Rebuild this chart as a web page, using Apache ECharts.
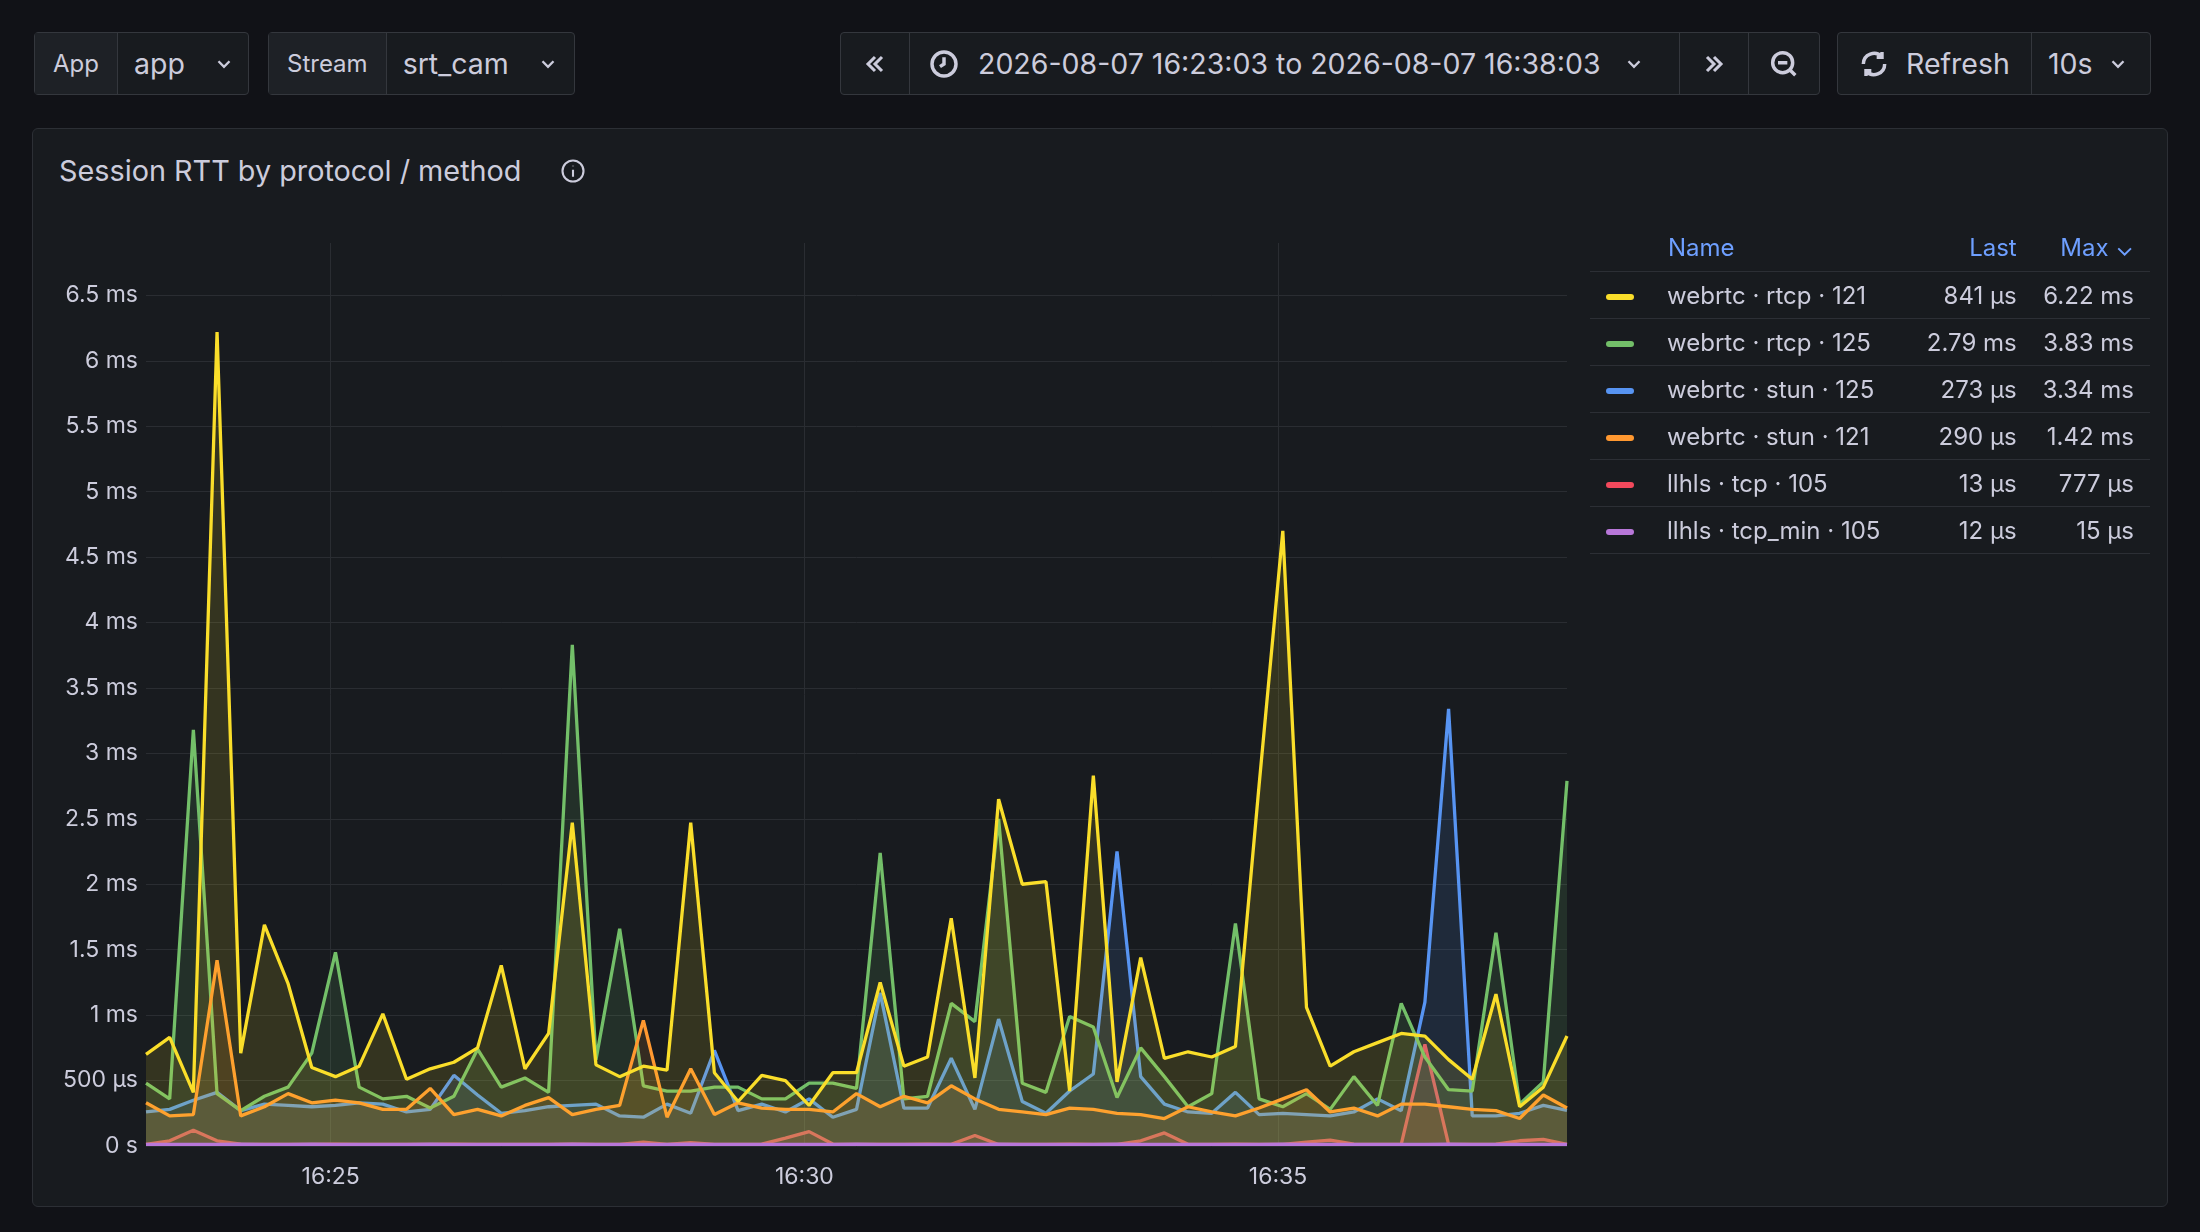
<!DOCTYPE html>
<html>
<head>
<meta charset="utf-8">
<script src="https://cdn.jsdelivr.net/npm/echarts@6/dist/echarts.min.js"></script>
<style>
  html, body { margin: 0; padding: 0; background: #111217; font-family: Inter, "Noto Sans", sans-serif; color: #ccccdc; }
  #page { position: relative; width: 2200px; height: 1232px; overflow: hidden; }
  .box { position: absolute; top: 32px; height: 63px; border: 1px solid #34373d; border-radius: 4px; background: #181b1f; display: flex; align-items: center; font-size: 28.5px; box-sizing: border-box; white-space: nowrap; }
  .box .lab { height: 100%; display: flex; align-items: center; padding: 0 18px; border-right: 1px solid #34373d; font-size: 24px; background: #1e2126; }
  .box .seg { height: 100%; display: flex; align-items: center; padding: 0 18px; border-right: 1px solid #34373d; box-sizing: border-box; flex: none; }
  .box .seg:last-child { border-right: none; }
  svg { stroke: #ccccdc; fill: none; stroke-width: 2.6; flex: none; }
  #panel { position: absolute; left: 32px; top: 128px; width: 2136px; height: 1079px; border: 1px solid #2c2f35; border-radius: 6px; background: #181b1f; box-sizing: border-box; }
  #title { position: absolute; left: 26px; top: 24px; font-size: 28.8px; color: #ccccdc; display: flex; align-items: center; }
  #chart { position: absolute; left: 0; top: 0; width: 2200px; height: 1232px; }
  #legend { position: absolute; left: 1590px; top: 223px; width: 560px; font-size: 24px; }
  #legend table { border-collapse: collapse; width: 100%; }
  #legend th { color: #6e9fff; font-weight: 400; height: 46px; border-bottom: 1px solid #2c2f35; }
  #legend td { height: 46px; padding: 0; border-bottom: 1px solid #2c2f35; }
  .sw { display: inline-block; width: 28px; height: 6px; border-radius: 3px; vertical-align: middle; }
</style>
</head>
<body>
<div id="page">
  <div class="box" style="left:34px;width:215px"><div class="lab">App</div><div class="seg" style="padding-left:16px">app<svg width="22" height="22" viewBox="0 0 24 24" style="margin-left:28px"><path d="M6 9l6 6 6-6"/></svg></div></div>
  <div class="box" style="left:268px;width:307px"><div class="lab">Stream</div><div class="seg" style="padding-left:16px">srt_cam<svg width="22" height="22" viewBox="0 0 24 24" style="margin-left:28px"><path d="M6 9l6 6 6-6"/></svg></div></div>
  <div class="box" style="left:840px;width:980px">
    <div class="seg" style="width:69px;justify-content:center;padding:0"><svg width="28" height="28" viewBox="0 0 24 24"><path d="M12 6l-6 6 6 6M18 6l-6 6 6 6"/></svg></div>
    <div class="seg" style="width:770px;padding:0 18px"><svg width="32" height="32" viewBox="0 0 24 24" style="margin-right:18px"><circle cx="12" cy="12" r="9"/><path d="M12 7v5l-3 2"/></svg>2026-08-07 16:23:03 to 2026-08-07 16:38:03<svg width="22" height="22" viewBox="0 0 24 24" style="margin-left:22px"><path d="M6 9l6 6 6-6"/></svg></div>
    <div class="seg" style="width:69px;justify-content:center;padding:0"><svg width="28" height="28" viewBox="0 0 24 24"><path d="M6 6l6 6-6 6M12 6l6 6-6 6"/></svg></div>
    <div class="seg" style="width:70px;justify-content:center;padding:0"><svg width="32" height="32" viewBox="0 0 24 24"><circle cx="11" cy="11" r="7.5"/><path d="M7.5 11h7M16.5 16.5l4 4"/></svg></div>
  </div>
  <div class="box" style="left:1837px;width:314px">
    <div class="seg" style="width:194px;padding:0 20px"><svg width="32" height="32" viewBox="0 0 24 24" style="margin-right:16px"><path d="M20 12a8 8 0 0 1-14 5.3M4 12a8 8 0 0 1 14-5.3M18 3v4h-4M6 21v-4h4"/></svg>Refresh</div>
    <div class="seg" style="padding:0 16px">10s<svg width="22" height="22" viewBox="0 0 24 24" style="margin-left:14px"><path d="M6 9l6 6 6-6"/></svg></div>
  </div>
  <div id="panel">
    <div id="title">Session RTT by protocol / method<svg width="28" height="28" viewBox="0 0 24 24" style="margin-left:38px;stroke-width:1.8"><circle cx="12" cy="12" r="9"/><path d="M12 11v6M12 7.5v.5"/></svg></div>
  </div>
  <div id="chart"></div>
  <div id="legend"></div>
</div>
<script>
// 15 s samples, 16:23:03 .. 16:38:03 (seconds of day)
var startSec = 16 * 3600 + 23 * 60 + 3;
var stepSec = 15;
var xTicks = ['16:25', '16:30', '16:35'];

var names = ['webrtc · rtcp · 121', 'webrtc · rtcp · 125', 'webrtc · stun · 125', 'webrtc · stun · 121', 'llhls · tcp · 105', 'llhls · tcp_min · 105'];
var colors = ['#fade2a', '#73bf69', '#5794f2', '#ff9830', '#f2495c', '#b877d9'];
var lastText = ['841 µs', '2.79 ms', '273 µs', '290 µs', '13 µs', '12 µs'];
var maxText = ['6.22 ms', '3.83 ms', '3.34 ms', '1.42 ms', '777 µs', '15 µs'];

// values in ms
var rtcp121 = [0.70, 0.83, 0.41, 6.22, 0.71, 1.69, 1.24, 0.60, 0.53, 0.61, 1.01, 0.51, 0.59, 0.64, 0.75, 1.38, 0.59, 0.86, 2.47, 0.62,
  0.53, 0.61, 0.58, 2.47, 0.56, 0.34, 0.54, 0.50, 0.31, 0.56, 0.56, 1.25, 0.61, 0.68, 1.74, 0.52, 2.65, 2.00, 2.02, 0.42,
  2.83, 0.49, 1.44, 0.67, 0.72, 0.68, 0.76, 2.76, 4.70, 1.06, 0.61, 0.72, 0.79, 0.86, 0.84, 0.66, 0.51, 1.16, 0.30, 0.45, 0.841];
var rtcp125 = [0.48, 0.36, 3.18, 0.40, 0.27, 0.38, 0.45, 0.71, 1.48, 0.45, 0.36, 0.38, 0.29, 0.38, 0.74, 0.45, 0.52, 0.41, 3.83, 0.66,
  1.66, 0.46, 0.42, 0.42, 0.45, 0.45, 0.36, 0.36, 0.48, 0.48, 0.44, 2.24, 0.36, 0.38, 1.09, 0.95, 2.50, 0.48, 0.41, 0.99,
  0.91, 0.37, 0.75, 0.53, 0.30, 0.40, 1.70, 0.36, 0.30, 0.40, 0.28, 0.53, 0.31, 1.09, 0.68, 0.43, 0.42, 1.63, 0.32, 0.49, 2.79];
var stun125 = [0.26, 0.28, 0.35, 0.41, 0.27, 0.32, 0.31, 0.30, 0.31, 0.33, 0.32, 0.26, 0.28, 0.54, 0.39, 0.25, 0.27, 0.30, 0.31, 0.32,
  0.23, 0.22, 0.32, 0.25, 0.73, 0.27, 0.32, 0.26, 0.36, 0.22, 0.28, 1.17, 0.29, 0.29, 0.67, 0.28, 0.97, 0.34, 0.25, 0.42,
  0.55, 2.25, 0.53, 0.32, 0.26, 0.25, 0.41, 0.24, 0.25, 0.24, 0.23, 0.26, 0.36, 0.27, 1.10, 3.34, 0.23, 0.23, 0.25, 0.31, 0.273];
var stun121 = [0.33, 0.23, 0.24, 1.42, 0.23, 0.30, 0.40, 0.33, 0.35, 0.33, 0.28, 0.28, 0.44, 0.24, 0.28, 0.23, 0.31, 0.37, 0.24, 0.28,
  0.31, 0.96, 0.22, 0.59, 0.24, 0.33, 0.29, 0.28, 0.28, 0.26, 0.40, 0.30, 0.38, 0.33, 0.46, 0.36, 0.28, 0.26, 0.24, 0.29,
  0.28, 0.25, 0.24, 0.21, 0.30, 0.26, 0.23, 0.29, 0.36, 0.43, 0.26, 0.29, 0.23, 0.32, 0.32, 0.30, 0.28, 0.27, 0.21, 0.39, 0.29];
var tcp105 = [0.012, 0.04, 0.12, 0.04, 0.015, 0.012, 0.013, 0.012, 0.014, 0.013, 0.012, 0.012, 0.013, 0.014, 0.012, 0.013, 0.012, 0.013, 0.014, 0.012,
  0.013, 0.03, 0.013, 0.025, 0.012, 0.013, 0.014, 0.06, 0.11, 0.015, 0.012, 0.013, 0.012, 0.014, 0.013, 0.08, 0.012, 0.013, 0.012, 0.014,
  0.013, 0.013, 0.04, 0.10, 0.013, 0.012, 0.014, 0.012, 0.013, 0.03, 0.045, 0.014, 0.013, 0.012, 0.777, 0.013, 0.012, 0.014, 0.04, 0.05, 0.013];
var tcpMin105 = [0.012, 0.012, 0.013, 0.012, 0.014, 0.013, 0.012, 0.015, 0.012, 0.013, 0.012, 0.012, 0.014, 0.013, 0.012, 0.012, 0.013, 0.012, 0.015, 0.013,
  0.012, 0.013, 0.012, 0.014, 0.012, 0.013, 0.012, 0.012, 0.013, 0.012, 0.014, 0.012, 0.013, 0.012, 0.012, 0.013, 0.015, 0.012, 0.013, 0.012,
  0.012, 0.014, 0.012, 0.013, 0.012, 0.012, 0.013, 0.012, 0.014, 0.012, 0.013, 0.012, 0.012, 0.013, 0.012, 0.015, 0.012, 0.013, 0.012, 0.013, 0.012];

var allSeries = [rtcp121, rtcp125, stun125, stun121, tcp105, tcpMin105];
var zOrder = [9, 7, 6, 8, 5, 10];

function toSec(hm) {
  var p = hm.split(':');
  return +p[0] * 3600 + +p[1] * 60;
}
function fmtMs(v) {
  if (v === 0) return '0 s';
  if (v < 1) return Math.round(v * 1000) + ' µs';
  return +v.toFixed(1) + ' ms';
}
function fmtTime(s) {
  var h = Math.floor(s / 3600), m = Math.floor((s % 3600) / 60);
  return h + ':' + (m < 10 ? '0' : '') + m;
}

var series = allSeries.map(function (arr, k) {
  return {
    name: names[k],
    type: 'line',
    symbol: 'none',
    z: zOrder[k],
    lineStyle: { width: 3.3, color: colors[k] },
    itemStyle: { color: colors[k] },
    areaStyle: { color: colors[k], opacity: 0.13 },
    data: arr.map(function (v, i) { return [startSec + i * stepSec, v]; })
  };
});

var chart = echarts.init(document.getElementById('chart'));
chart.setOption({
  animation: false,
  grid: { left: 146, right: 633, top: 243, bottom: 86 },
  xAxis: {
    type: 'value',
    min: startSec,
    max: startSec + 60 * stepSec,
    axisLine: { show: false },
    axisTick: { show: false, customValues: xTicks.map(toSec) },
    axisLabel: { customValues: xTicks.map(toSec), formatter: fmtTime, color: '#ccccdc', fontSize: 23, margin: 20, fontFamily: 'Inter' },
    splitLine: { show: true, lineStyle: { color: '#2a2d32', width: 1 } }
  },
  yAxis: {
    type: 'value',
    min: 0,
    max: 6.9,
    interval: 0.5,
    axisLine: { show: false },
    axisTick: { show: false },
    axisLabel: { formatter: fmtMs, color: '#ccccdc', fontSize: 23, margin: 8, showMaxLabel: false, fontFamily: 'Inter' },
    splitLine: { lineStyle: { color: '#2a2d32', width: 1 }, showMaxLine: false }
  },
  series: series
});

var html = '<table><tr><th style="width:75px"></th><th style="text-align:left">Name</th><th style="text-align:right;padding-right:10px">Last</th><th style="text-align:right;padding-right:16px">Max &#8964;</th></tr>';
names.forEach(function (n, k) {
  html += '<tr><td style="padding-left:16px"><span class="sw" style="background:' + colors[k] + '"></span></td><td>' + n +
    '</td><td style="text-align:right;padding-right:10px">' + lastText[k] + '</td><td style="text-align:right;padding-right:16px">' + maxText[k] + '</td></tr>';
});
document.getElementById('legend').innerHTML = html + '</table>';
</script>
</body>
</html>
